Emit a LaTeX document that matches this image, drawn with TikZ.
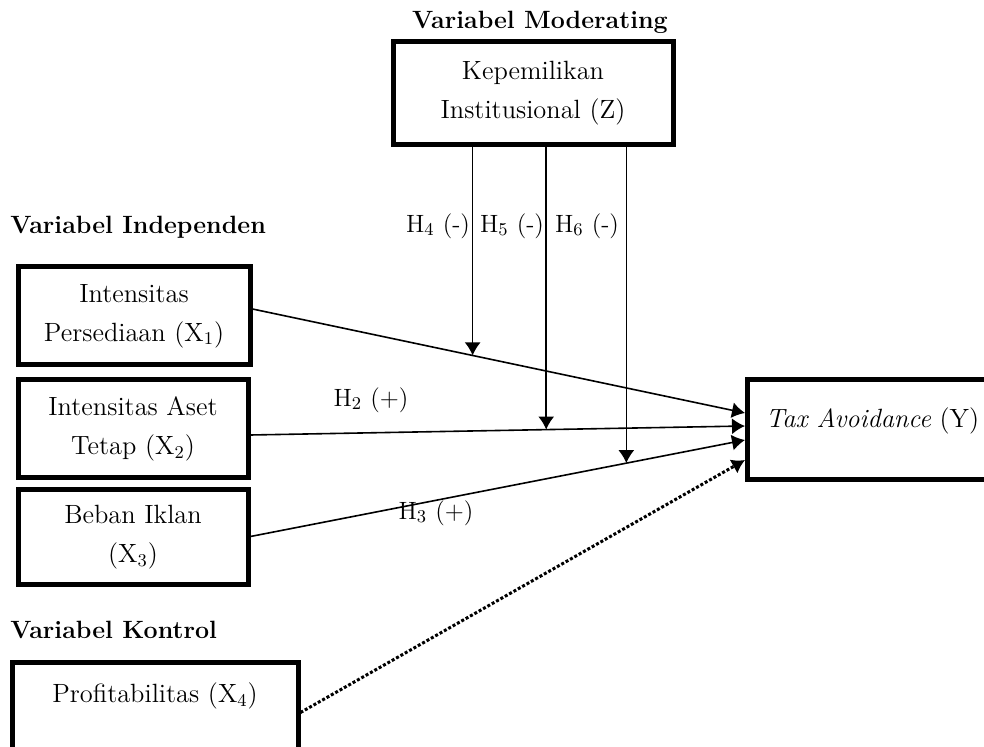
\documentclass[tikz,border=0pt]{standalone}
\usetikzlibrary{arrows,arrows.meta,calc,positioning}

\begin{document}
\begin{tikzpicture}[x=0.5pt,y=-0.5pt]
    \tikzset{
        box/.style = {rectangle, draw=black, line width=2.5pt, fill=white, align=center, font=\fontsize{13.2}{19.5}\selectfont},
        head/.style = {anchor=west, inner sep=0pt, font=\bfseries\fontsize{12.5}{15}\selectfont},
        hyp/.style = {inner sep=1pt, font=\fontsize{12.5}{15}\selectfont},
        line/.style = {draw=black, line width=0.8pt, -{Latex[length=6.5pt,width=8pt]}},
        ctrl/.style = {draw=black, line width=1.5pt, densely dotted, -{Latex[length=6.5pt,width=8pt]}}
    }
    \clip (0,0) rectangle (984,747);

    % headings
    \node[head, anchor=center](hmod) at (540,22){Variabel Moderating};
    \node[head](hind) at (10,227){Variabel Independen};
    \node[head](hkon) at (10,630){Variabel Kontrol};

    % boxes
    \node[box, minimum width=140pt, minimum height=51.5pt](z) at (533,93.5){Kepemilikan\\Institusional (Z)};
    \node[box, minimum width=116pt, minimum height=49pt](x1) at (134,316){Intensitas\\Persediaan (X$_1$)};
    \node[box, minimum width=115pt, minimum height=49pt](x2) at (133,429){Intensitas Aset\\Tetap (X$_2$)};
    \node[box, minimum width=115pt, minimum height=47.5pt](x3) at (133,537.5){Beban Iklan\\(X$_3$)};
    \node[box, minimum width=143pt, inner ysep=0pt, text height=20pt, text depth=30pt, anchor=north](x4) at (155,660){Profitabilitas (X$_4$)};
    \node[box, minimum width=125pt, inner ysep=0pt, text height=24pt, text depth=26pt, anchor=west](y) at (745,430){\textit{Tax Avoidance} (Y)};

    % direct paths
    \coordinate (a1) at ([yshift=3.5pt]x1.east);
    \coordinate (b1) at ([yshift=8.5pt]y.west);
    \coordinate (a2) at ([yshift=-3pt]x2.east);
    \coordinate (b2) at ([yshift=2pt]y.west);
    \coordinate (a3) at ([yshift=0.5pt]x3.east);
    \coordinate (b3) at ([yshift=-5pt]y.west);
    \path [line] (a1) -- (b1);
    \path [line] (a2) -- (b2);
    \path [line] (a3) -- (b3);
    \path [ctrl] (x4.east) -- ([yshift=-15pt]y.west);

    % moderating paths
    \coordinate (m1) at ($(a1)!0.447!(b1)$);
    \coordinate (m2) at ($(a2)!0.598!(b2)$);
    \coordinate (m3) at ($(a3)!0.760!(b3)$);
    \path [line] (m1 |- z.south) -- (m1);
    \path [line] (m2 |- z.south) -- (m2);
    \path [line] (m3 |- z.south) -- (m3);

    % labels
    \node[hyp](h4) at (438,226){H$_4$ (-)};
    \node[hyp](h5) at (512,226){H$_5$ (-)};
    \node[hyp](h6) at (587,226){H$_6$ (-)};
    \node[hyp](h2) at (371,400){H$_2$ (+)};
    \node[hyp](h3) at (436,513){H$_3$ (+)};

\end{tikzpicture}
\end{document}
